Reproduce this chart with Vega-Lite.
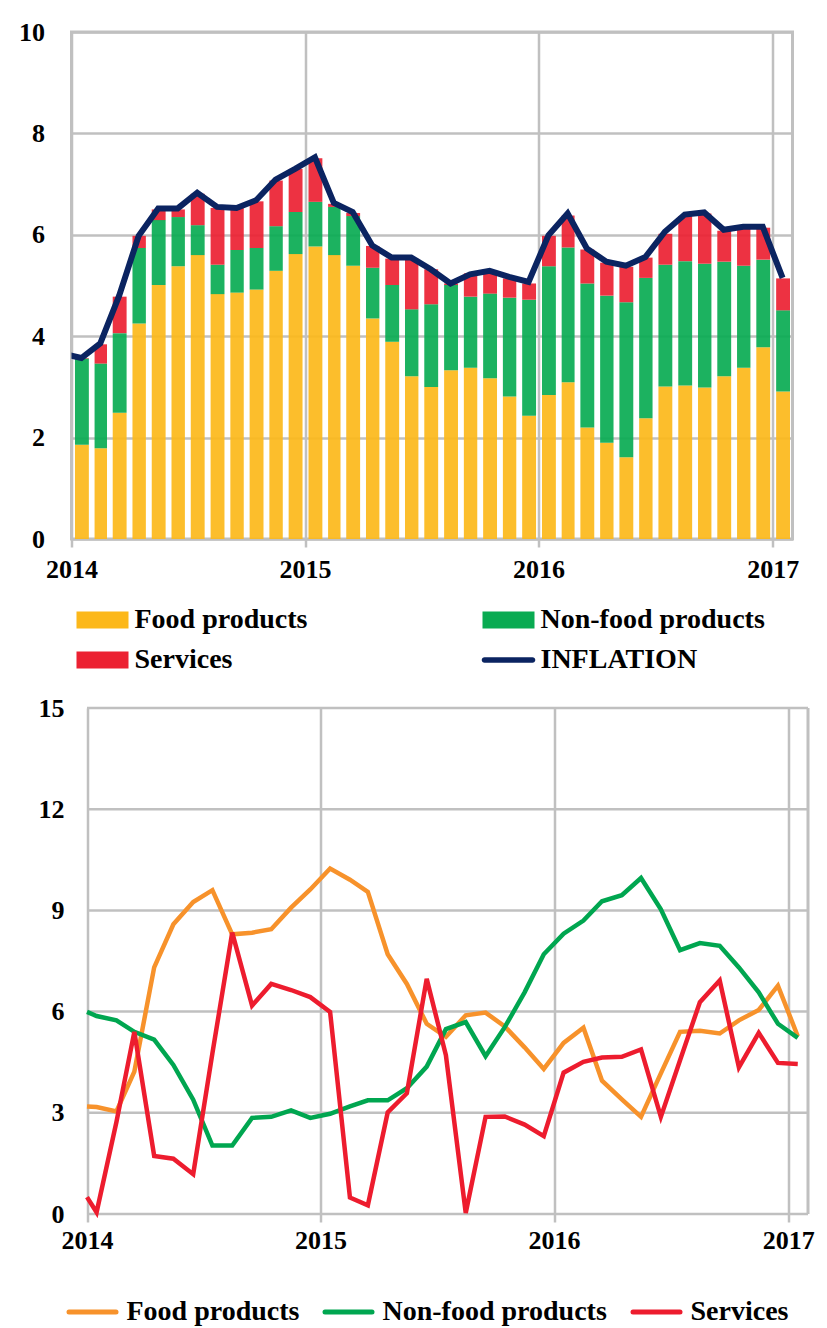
{
  "$schema": "https://vega.github.io/schema/vega-lite/v6.json",
  "padding": {"left": 16.5, "top": 17, "right": 0, "bottom": 0},
  "autosize": {"type": "pad"},
  "spacing": 19,
  "config": {
    "font": "Liberation Serif",
    "view": {"stroke": "#c0c0c0", "strokeWidth": 3},
    "axis": {"labelFont": "Liberation Serif", "labelFontWeight": "bold", "labelFontSize": 26, "labelColor": "#000000", "gridColor": "#c0c0c0", "gridWidth": 2.5, "domain": false, "title": null, "tickColor": "#c0c0c0", "tickWidth": 2.5},
    "legend": {"labelFont": "Liberation Serif", "labelFontWeight": "bold", "labelFontSize": 28, "labelColor": "#000000", "padding": 0, "title": null, "labelLimit": 400}
  },
  "resolve": {"scale": {"color": "independent"}, "legend": {"color": "independent"}},
  "datasets": {
    "topbars": [
      {"date": "2014/01/01", "Food products": 1.86, "Non-food products": 1.70, "Services": 0.01},
      {"date": "2014/02/01", "Food products": 1.79, "Non-food products": 1.67, "Services": 0.38},
      {"date": "2014/03/01", "Food products": 2.49, "Non-food products": 1.57, "Services": 0.72},
      {"date": "2014/04/01", "Food products": 4.25, "Non-food products": 1.49, "Services": 0.24},
      {"date": "2014/05/01", "Food products": 5.01, "Non-food products": 1.28, "Services": 0.21},
      {"date": "2014/06/01", "Food products": 5.38, "Non-food products": 0.97, "Services": 0.15},
      {"date": "2014/07/01", "Food products": 5.60, "Non-food products": 0.59, "Services": 0.62},
      {"date": "2014/08/01", "Food products": 4.83, "Non-food products": 0.58, "Services": 1.12},
      {"date": "2014/09/01", "Food products": 4.86, "Non-food products": 0.84, "Services": 0.83},
      {"date": "2014/10/01", "Food products": 4.92, "Non-food products": 0.82, "Services": 0.92},
      {"date": "2014/11/01", "Food products": 5.29, "Non-food products": 0.88, "Services": 0.90},
      {"date": "2014/12/01", "Food products": 5.62, "Non-food products": 0.83, "Services": 0.85},
      {"date": "2015/01/01", "Food products": 5.77, "Non-food products": 0.88, "Services": 0.86},
      {"date": "2015/02/01", "Food products": 5.60, "Non-food products": 0.95, "Services": 0.06},
      {"date": "2015/03/01", "Food products": 5.39, "Non-food products": 0.98, "Services": 0.06},
      {"date": "2015/04/01", "Food products": 4.35, "Non-food products": 1.00, "Services": 0.43},
      {"date": "2015/05/01", "Food products": 3.89, "Non-food products": 1.12, "Services": 0.52},
      {"date": "2015/06/01", "Food products": 3.21, "Non-food products": 1.32, "Services": 1.00},
      {"date": "2015/07/01", "Food products": 3.00, "Non-food products": 1.63, "Services": 0.69},
      {"date": "2015/08/01", "Food products": 3.33, "Non-food products": 1.68, "Services": 0.03},
      {"date": "2015/09/01", "Food products": 3.38, "Non-food products": 1.40, "Services": 0.46},
      {"date": "2015/10/01", "Food products": 3.17, "Non-food products": 1.67, "Services": 0.45},
      {"date": "2015/11/01", "Food products": 2.81, "Non-food products": 1.95, "Services": 0.38},
      {"date": "2015/12/01", "Food products": 2.43, "Non-food products": 2.29, "Services": 0.32},
      {"date": "2016/01/01", "Food products": 2.84, "Non-food products": 2.54, "Services": 0.60},
      {"date": "2016/02/01", "Food products": 3.09, "Non-food products": 2.66, "Services": 0.63},
      {"date": "2016/03/01", "Food products": 2.20, "Non-food products": 2.84, "Services": 0.67},
      {"date": "2016/04/01", "Food products": 1.90, "Non-food products": 2.90, "Services": 0.65},
      {"date": "2016/05/01", "Food products": 1.61, "Non-food products": 3.06, "Services": 0.70},
      {"date": "2016/06/01", "Food products": 2.38, "Non-food products": 2.77, "Services": 0.40},
      {"date": "2016/07/01", "Food products": 3.01, "Non-food products": 2.40, "Services": 0.61},
      {"date": "2016/08/01", "Food products": 3.03, "Non-food products": 2.45, "Services": 0.89},
      {"date": "2016/09/01", "Food products": 2.99, "Non-food products": 2.44, "Services": 0.99},
      {"date": "2016/10/01", "Food products": 3.21, "Non-food products": 2.26, "Services": 0.61},
      {"date": "2016/11/01", "Food products": 3.38, "Non-food products": 2.01, "Services": 0.73},
      {"date": "2016/12/01", "Food products": 3.78, "Non-food products": 1.73, "Services": 0.63},
      {"date": "2017/01/01", "Food products": 2.91, "Non-food products": 1.60, "Services": 0.63}
    ],
    "inflation": [
      {"date": "2013/12/01", "INFLATION": 3.66},
      {"date": "2014/01/01", "INFLATION": 3.57},
      {"date": "2014/02/01", "INFLATION": 3.86},
      {"date": "2014/03/01", "INFLATION": 4.80},
      {"date": "2014/04/01", "INFLATION": 5.98},
      {"date": "2014/05/01", "INFLATION": 6.52},
      {"date": "2014/06/01", "INFLATION": 6.52},
      {"date": "2014/07/01", "INFLATION": 6.83},
      {"date": "2014/08/01", "INFLATION": 6.55},
      {"date": "2014/09/01", "INFLATION": 6.53},
      {"date": "2014/10/01", "INFLATION": 6.68},
      {"date": "2014/11/01", "INFLATION": 7.09},
      {"date": "2014/12/01", "INFLATION": 7.30},
      {"date": "2015/01/01", "INFLATION": 7.53},
      {"date": "2015/02/01", "INFLATION": 6.63},
      {"date": "2015/03/01", "INFLATION": 6.45},
      {"date": "2015/04/01", "INFLATION": 5.79},
      {"date": "2015/05/01", "INFLATION": 5.55},
      {"date": "2015/06/01", "INFLATION": 5.55},
      {"date": "2015/07/01", "INFLATION": 5.32},
      {"date": "2015/08/01", "INFLATION": 5.04},
      {"date": "2015/09/01", "INFLATION": 5.22},
      {"date": "2015/10/01", "INFLATION": 5.29},
      {"date": "2015/11/01", "INFLATION": 5.17},
      {"date": "2015/12/01", "INFLATION": 5.07},
      {"date": "2016/01/01", "INFLATION": 5.99},
      {"date": "2016/02/01", "INFLATION": 6.42},
      {"date": "2016/03/01", "INFLATION": 5.73},
      {"date": "2016/04/01", "INFLATION": 5.47},
      {"date": "2016/05/01", "INFLATION": 5.39},
      {"date": "2016/06/01", "INFLATION": 5.56},
      {"date": "2016/07/01", "INFLATION": 6.06},
      {"date": "2016/08/01", "INFLATION": 6.40},
      {"date": "2016/09/01", "INFLATION": 6.44},
      {"date": "2016/10/01", "INFLATION": 6.10},
      {"date": "2016/11/01", "INFLATION": 6.16},
      {"date": "2016/12/01", "INFLATION": 6.16},
      {"date": "2017/01/01", "INFLATION": 5.15}
    ],
    "bottom": [
      {"date": "2014/01/01", "Food products": 3.19, "Non-food products": 5.99, "Services": 0.50},
      {"date": "2014/01/16", "Food products": 3.17, "Non-food products": 5.87, "Services": 0.05},
      {"date": "2014/02/16", "Food products": 3.04, "Non-food products": 5.74, "Services": 2.73},
      {"date": "2014/03/16", "Food products": 4.22, "Non-food products": 5.40, "Services": 5.40},
      {"date": "2014/04/16", "Food products": 7.31, "Non-food products": 5.17, "Services": 1.72},
      {"date": "2014/05/16", "Food products": 8.59, "Non-food products": 4.42, "Services": 1.64},
      {"date": "2014/06/16", "Food products": 9.25, "Non-food products": 3.39, "Services": 1.18},
      {"date": "2014/07/16", "Food products": 9.60, "Non-food products": 2.03, "Services": 4.76},
      {"date": "2014/08/16", "Food products": 8.29, "Non-food products": 2.03, "Services": 8.34},
      {"date": "2014/09/16", "Food products": 8.34, "Non-food products": 2.85, "Services": 6.18},
      {"date": "2014/10/16", "Food products": 8.44, "Non-food products": 2.88, "Services": 6.82},
      {"date": "2014/11/16", "Food products": 9.08, "Non-food products": 3.07, "Services": 6.64},
      {"date": "2014/12/16", "Food products": 9.62, "Non-food products": 2.85, "Services": 6.43},
      {"date": "2015/01/16", "Food products": 10.24, "Non-food products": 2.97, "Services": 5.99},
      {"date": "2015/02/16", "Food products": 9.91, "Non-food products": 3.19, "Services": 0.49},
      {"date": "2015/03/16", "Food products": 9.55, "Non-food products": 3.37, "Services": 0.26},
      {"date": "2015/04/16", "Food products": 7.70, "Non-food products": 3.37, "Services": 3.01},
      {"date": "2015/05/16", "Food products": 6.82, "Non-food products": 3.73, "Services": 3.58},
      {"date": "2015/06/16", "Food products": 5.64, "Non-food products": 4.37, "Services": 6.97},
      {"date": "2015/07/16", "Food products": 5.25, "Non-food products": 5.48, "Services": 4.71},
      {"date": "2015/08/16", "Food products": 5.89, "Non-food products": 5.69, "Services": 0.03},
      {"date": "2015/09/16", "Food products": 5.97, "Non-food products": 4.68, "Services": 2.88},
      {"date": "2015/10/16", "Food products": 5.56, "Non-food products": 5.54, "Services": 2.89},
      {"date": "2015/11/16", "Food products": 4.94, "Non-food products": 6.57, "Services": 2.65},
      {"date": "2015/12/16", "Food products": 4.30, "Non-food products": 7.70, "Services": 2.31},
      {"date": "2016/01/16", "Food products": 5.07, "Non-food products": 8.31, "Services": 4.19},
      {"date": "2016/02/16", "Food products": 5.52, "Non-food products": 8.70, "Services": 4.51},
      {"date": "2016/03/16", "Food products": 3.95, "Non-food products": 9.27, "Services": 4.64},
      {"date": "2016/04/16", "Food products": 3.40, "Non-food products": 9.45, "Services": 4.66},
      {"date": "2016/05/16", "Food products": 2.88, "Non-food products": 9.96, "Services": 4.88},
      {"date": "2016/06/16", "Food products": 4.17, "Non-food products": 9.03, "Services": 2.88},
      {"date": "2016/07/16", "Food products": 5.40, "Non-food products": 7.82, "Services": 4.56},
      {"date": "2016/08/16", "Food products": 5.43, "Non-food products": 8.03, "Services": 6.28},
      {"date": "2016/09/16", "Food products": 5.35, "Non-food products": 7.95, "Services": 6.92},
      {"date": "2016/10/16", "Food products": 5.74, "Non-food products": 7.31, "Services": 4.35},
      {"date": "2016/11/16", "Food products": 6.05, "Non-food products": 6.57, "Services": 5.37},
      {"date": "2016/12/16", "Food products": 6.77, "Non-food products": 5.64, "Services": 4.48},
      {"date": "2017/01/16", "Food products": 5.27, "Non-food products": 5.22, "Services": 4.45}
    ]
  },
  "vconcat": [
    {
      "width": 721,
      "height": 507,
      "layer": [
        {
          "data": {"name": "topbars"},
          "transform": [
            {"fold": ["Food products", "Non-food products", "Services"], "as": ["series", "value"]},
            {"calculate": "indexof(['Food products','Non-food products','Services'], datum.series)", "as": "k"}
          ],
          "mark": {"type": "bar", "width": {"band": 0.75}, "opacity": 0.92},
          "encoding": {
            "x": {
              "field": "date", "type": "temporal", "timeUnit": "yearmonth",
              "scale": {"domain": [{"year": 2014, "month": 1, "date": 1}, {"year": 2017, "month": 2, "date": 1}]},
              "axis": {
                "values": [{"year": 2014, "month": 1, "date": 1}, {"year": 2015, "month": 1, "date": 1}, {"year": 2016, "month": 1, "date": 1}, {"year": 2017, "month": 1, "date": 1}],
                "format": "%Y", "formatType": "time", "labelDx": 13, "labelPadding": 9, "tickSize": 8, "grid": true,
                "labelFlush": false, "labelOverlap": false
              }
            },
            "y": {
              "field": "value", "type": "quantitative", "stack": "zero",
              "scale": {"domain": [0, 10], "nice": false},
              "axis": {"values": [0, 2, 4, 6, 8, 10], "ticks": false, "labelPadding": 27, "grid": true, "minExtent": 53, "maxExtent": 53}
            },
            "color": {
              "field": "series", "type": "nominal",
              "scale": {"domain": ["Food products", "Non-food products", "Services", "INFLATION"], "range": ["#FCB81A", "#09AB52", "#EC2132", "#0B2461"]},
              "legend": {
                "orient": "none", "legendX": 17, "legendY": 574, "columns": 2, "direction": "horizontal",
                "symbolType": {"expr": "datum.value === 'INFLATION' ? 'M-2.4,-0.28H2.4A0.28,0.28 0 0 1 2.4,0.28H-2.4A0.28,0.28 0 0 1 -2.4,-0.28Z' : 'M-2.6,-0.85H2.6V0.85H-2.6Z'"},
                "symbolSize": 400, "symbolStrokeWidth": 0, "symbolOpacity": 1,
                "labelOffset": 18, "columnPadding": 174, "rowPadding": 12
              }
            },
            "order": {"field": "k", "type": "quantitative"}
          }
        },
        {
          "data": {"name": "inflation"},
          "mark": {"type": "line", "clip": true, "strokeWidth": 6},
          "encoding": {
            "x": {"field": "date", "type": "temporal", "timeUnit": "yearmonth", "bandPosition": 0.5,
                  "scale": {"domain": [{"year": 2014, "month": 1, "date": 1}, {"year": 2017, "month": 2, "date": 1}]}},
            "y": {"field": "INFLATION", "type": "quantitative"},
            "color": {"datum": "INFLATION", "type": "nominal"}
          }
        }
      ]
    },
    {
      "width": 737,
      "height": 506,
      "view": {"stroke": null},
      "layer": [
        {
          "data": {"values": [{"g": 0}, {"g": 3}, {"g": 6}, {"g": 9}, {"g": 12}, {"g": 15}]},
          "mark": {"type": "rule", "color": "#c0c0c0", "strokeWidth": 2.5},
          "encoding": {
            "y": {"field": "g", "type": "quantitative",
                  "scale": {"domain": [0, 15], "nice": false},
                  "axis": {"values": [0, 3, 6, 9, 12, 15], "ticks": false, "labelPadding": 23, "grid": false, "offset": -15.5}},
            "x": {"datum": {"year": 2014, "month": 1, "date": 1}, "type": "temporal",
                  "scale": {"domain": [{"year": 2014, "month": 1, "date": 1}, {"year": 2017, "month": 2, "date": 1}], "range": [15.5, 736.5]},
                  "axis": {
                    "values": [{"year": 2014, "month": 1, "date": 1}, {"year": 2015, "month": 1, "date": 1}, {"year": 2016, "month": 1, "date": 1}, {"year": 2017, "month": 1, "date": 1}],
                    "format": "%Y", "formatType": "time", "labelDx": 12, "labelPadding": 5, "tickSize": 8, "grid": true,
                    "labelFlush": false, "labelOverlap": false
                  }},
            "x2": {"datum": {"year": 2017, "month": 2, "date": 1}}
          }
        },
        {
          "data": {"values": [{"b": 1}]},
          "mark": {"type": "rule", "color": "#c0c0c0", "strokeWidth": 3},
          "encoding": {
            "x": {"datum": {"year": 2017, "month": 2, "date": 1}, "type": "temporal"},
            "y": {"datum": 0, "type": "quantitative"},
            "y2": {"datum": 15}
          }
        },
        {
          "data": {"name": "bottom"},
          "transform": [
            {"fold": ["Food products", "Non-food products", "Services"], "as": ["series", "value"]}
          ],
          "mark": {"type": "line", "strokeWidth": 4.5},
          "encoding": {
            "x": {"field": "date", "type": "temporal"},
            "y": {"field": "value", "type": "quantitative"},
            "color": {
              "field": "series", "type": "nominal",
              "scale": {"domain": ["Food products", "Non-food products", "Services"], "range": ["#F7922B", "#00A650", "#ED1C2E"]},
              "legend": {
                "orient": "none", "legendX": -5, "legendY": 578, "direction": "horizontal",
                "symbolType": "stroke", "symbolSize": 2209, "symbolStrokeWidth": 5, "labelOffset": 8, "columnPadding": 15,
                "encode": {"symbols": {"update": {"strokeCap": {"value": "round"}, "opacity": {"value": 1}}}}
              }
            }
          }
        }
      ]
    }
  ]
}
